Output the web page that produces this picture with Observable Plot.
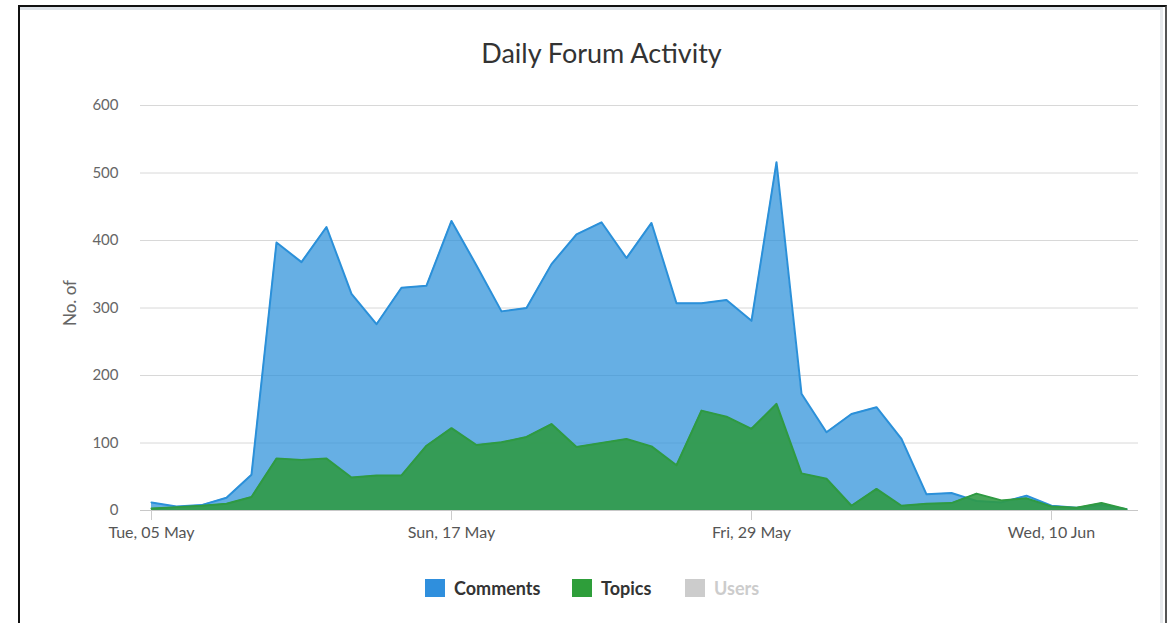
<!DOCTYPE html>
<html>
<head>
<meta charset="utf-8">
<script src="https://cdn.jsdelivr.net/npm/d3@7"></script>
<script src="https://cdn.jsdelivr.net/npm/@observablehq/plot@0.6"></script>
<style>
  html, body { margin: 0; padding: 0; background: #fff; width: 1171px; height: 623px; overflow: hidden; font-family: Lato, "Open Sans", sans-serif; }
  #frame { position: absolute; left: 18px; top: 5px; width: 1145px; height: 640px; border-left: 2px solid #111; border-top: 2px solid #111; border-right: 2px solid #555; }
  #inner { position: absolute; left: 20px; top: 7px; width: 1143px; height: 640px; border-top: 3px solid #dde2e8; border-right: 3px solid #e6e9ec; box-sizing: border-box; }
  #title { position: absolute; left: 16px; width: 1171px; top: 36px; text-align: center; font-size: 27px; color: #333; font-family: Lato, sans-serif; }
  #chart { position: absolute; left: 0; top: 85px; }
  #legend { position: absolute; top: 577px; left: 0; width: 1171px; height: 22px; font-family: Lato, sans-serif; font-size: 18px; font-weight: bold; }
  .item { position: absolute; top: 0; display: flex; align-items: center; }
  .sw { width: 20px; height: 18px; margin-right: 9px; }
</style>
</head>
<body>
<div id="frame"></div>
<div id="inner"></div>
<div id="title">Daily Forum Activity</div>
<div id="chart"></div>
<div id="legend"></div>
<script>
// ---- data ----
const startDate = "2015-05-05";
const comments = [12, 6, 8, 19, 53, 397, 368, 420, 321, 276, 330, 333, 429, 363, 295, 300, 365, 409, 427, 374, 426, 307, 307, 312, 281, 516, 173, 116, 143, 153, 106, 24, 26, 14, 12, 22, 7, 4, 8, 2];
const topics   = [3, 5, 7, 10, 20, 77, 75, 77, 49, 52, 52, 96, 122, 97, 101, 109, 128, 94, 100, 106, 95, 67, 148, 139, 121, 158, 55, 47, 7, 32, 7, 10, 11, 25, 15, 18, 6, 4, 11, 2];
const tickDates = ["2015-05-05", "2015-05-17", "2015-05-29", "2015-06-10"];
const seriesNames = ["Comments", "Topics", "Users"];
const seriesColors = ["#2b90d9", "#2f9a42", "#cccccc"];
const yTicks = [0, 100, 200, 300, 400, 500, 600];
const yLabel = "No. of";

const day = 864e5;
const t0 = new Date(startDate + "T00:00:00Z");
const rows = comments.map((c, i) => ({date: new Date(+t0 + i * day), comments: c, topics: topics[i]}));
const ticks = tickDates.map(d => new Date(d + "T00:00:00Z"));
const fmt = d3.utcFormat("%a, %d %b");
const lastDate = rows[rows.length - 1].date;

const plot = Plot.plot({
  width: 1171,
  height: 470,
  marginLeft: 140,
  marginRight: 33,
  marginTop: 20,
  marginBottom: 45,
  style: {fontFamily: "Lato, sans-serif", fontSize: "15px", color: "#666", background: "transparent"},
  x: {type: "utc", domain: [new Date(+t0 - 0.44 * day), new Date(+lastDate + 0.48 * day)]},
  y: {domain: [0, 600]},
  marks: [
    Plot.gridY(yTicks, {stroke: "#d8d8d8", strokeOpacity: 1, strokeWidth: 1}),
    Plot.axisY(yTicks, {tickSize: 0, tickPadding: 22, fontSize: 15, fill: "#666", label: null}),
    Plot.text([yLabel], {frameAnchor: "left", textAnchor: "middle", dx: -70, dy: -5, rotate: -90, fontSize: 17, fill: "#666"}),
    Plot.areaY(rows, {x: "date", y: "comments", fill: seriesColors[0], fillOpacity: 0.72, curve: "linear"}),
    Plot.lineY(rows, {x: "date", y: "comments", stroke: seriesColors[0], strokeWidth: 2}),
    Plot.areaY(rows, {x: "date", y: "topics", fill: seriesColors[1], fillOpacity: 0.88, curve: "linear"}),
    Plot.lineY(rows, {x: "date", y: "topics", stroke: seriesColors[1], strokeWidth: 2}),
    Plot.ruleY([0], {stroke: "#c8c8c8", strokeWidth: 1}),
    Plot.axisX(ticks, {tickSize: 10, tickPadding: 6, tickFormat: fmt, fontSize: 16, fill: "#555", stroke: "#ccc", label: null})
  ]
});
document.getElementById("chart").appendChild(plot);

// legend
const legend = document.getElementById("legend");
const pos = [425, 572, 685];
seriesNames.forEach((name, i) => {
  const it = document.createElement("div");
  it.className = "item";
  it.style.left = pos[i] + "px";
  const sw = document.createElement("div");
  sw.className = "sw";
  sw.style.background = i === 2 ? "#cccccc" : (i === 0 ? "#2f8fdd" : "#2e9e3a");
  const tx = document.createElement("span");
  tx.textContent = name;
  tx.style.color = i === 2 ? "#cccccc" : "#333";
  it.appendChild(sw); it.appendChild(tx);
  legend.appendChild(it);
});
</script>
</body>
</html>
